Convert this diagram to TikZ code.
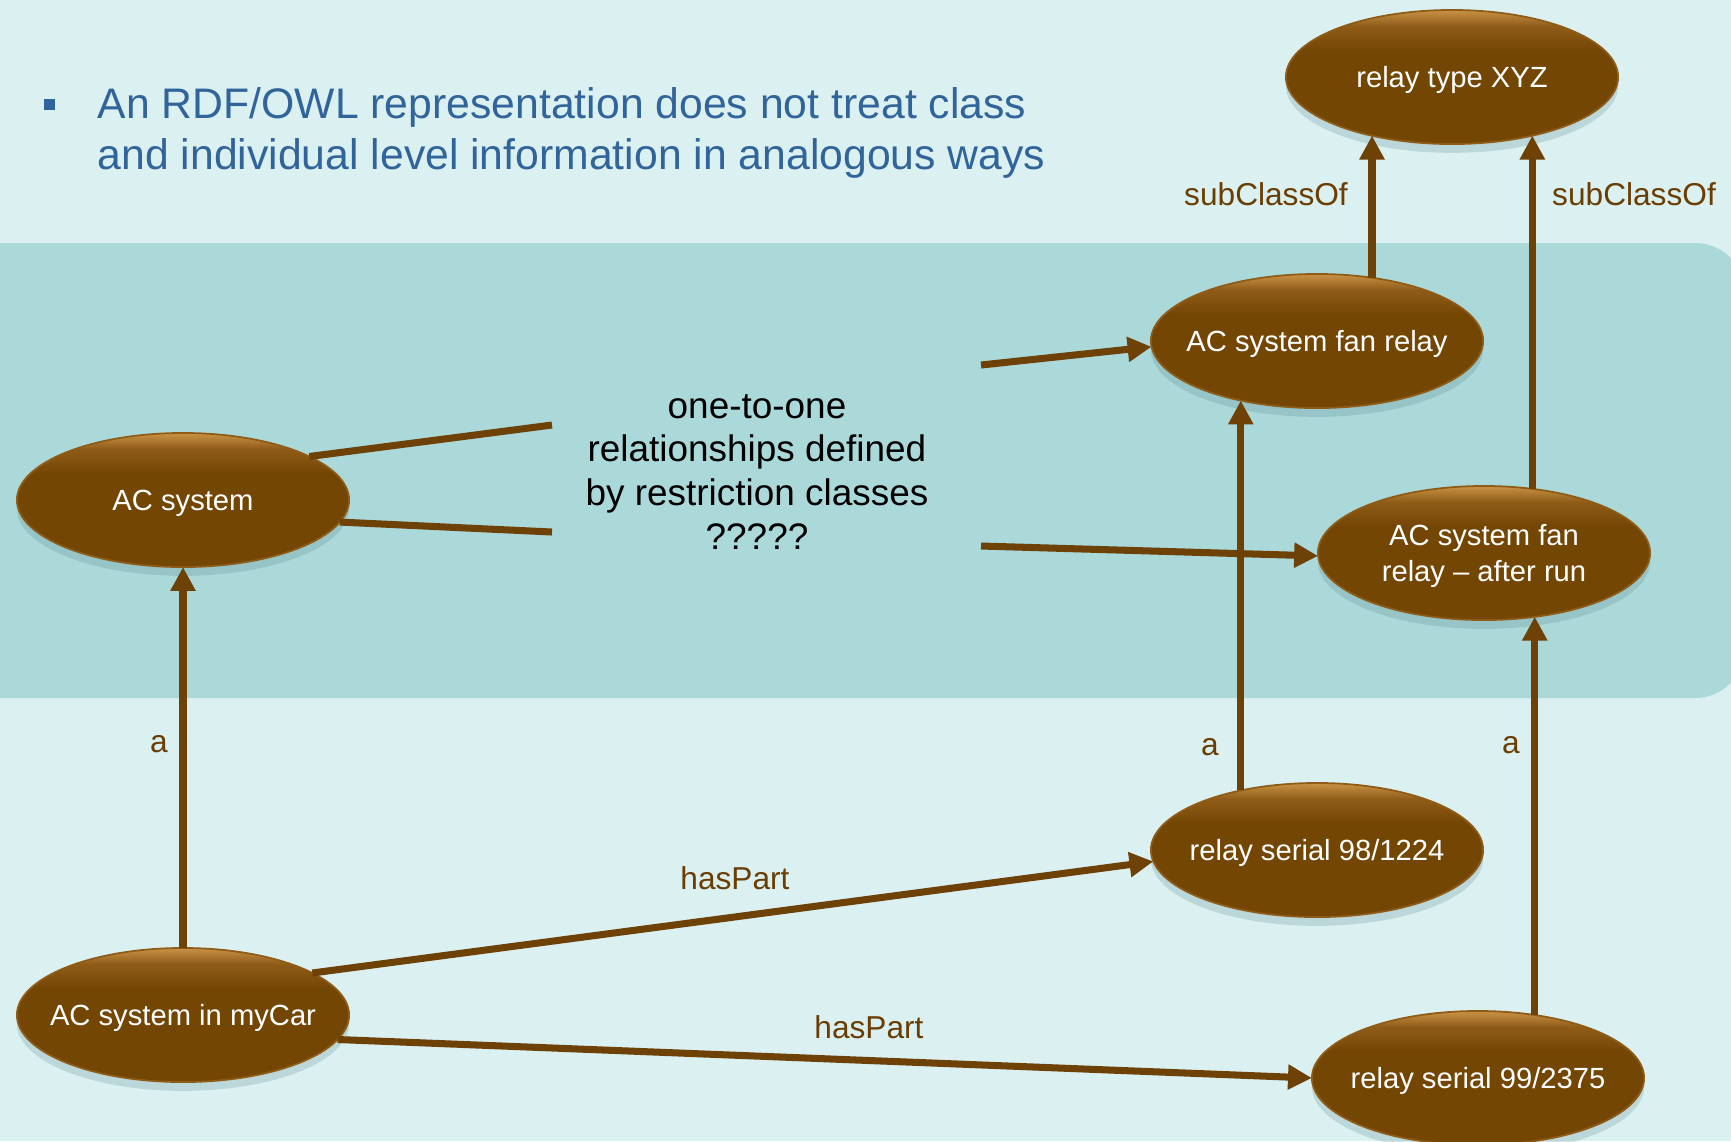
\documentclass[tikz,border=0pt]{standalone}
\usepackage{fontspec}
\setmainfont{Liberation Sans}
\usetikzlibrary{arrows.meta,shapes.geometric,shadows}

\definecolor{bgpale}{HTML}{DBF0F1}
\definecolor{bgband}{HTML}{ABD8D9}
\definecolor{brdark}{HTML}{744604}
\definecolor{brmid}{HTML}{8F5C18}
\definecolor{brlight}{HTML}{C99245}
\definecolor{edgebr}{HTML}{6E4206}
\definecolor{labbr}{HTML}{6A3D03}
\definecolor{slideblue}{HTML}{30649A}
\definecolor{shadowtone}{HTML}{5E8D93}

% dark brown body with a warm highlight along the upper rim
\pgfdeclareverticalshading{nodeshade}{100bp}{color(0bp)=(brdark); color(25bp)=(brdark); color(60bp)=(brdark); color(69bp)=(brmid); color(75bp)=(brlight); color(100bp)=(brlight)}

\tikzset{
  concept/.style={ellipse, minimum width=3.32cm, minimum height=1.34cm,
    inner xsep=-7pt, inner ysep=0pt, outer sep=0pt, shading=nodeshade, draw=brmid, line width=0.5pt,
    text=white, align=center, text depth=0pt, font=\fontsize{8.3}{10}\selectfont,
    drop shadow={shadow xshift=0pt, shadow yshift=-2.5pt, opacity=0.25, fill=shadowtone}},
  arr/.style={draw=edgebr, line width=2pt, -{Triangle[width=6.8pt,length=6.8pt]}},
  plain/.style={draw=edgebr, line width=2pt},
  lab/.style={text=labbr, font=\fontsize{9}{11}\selectfont, inner sep=0pt},
}

\begin{document}
\begin{tikzpicture}[x=0.01cm, y=-0.01cm]
  % slide background and the shaded band
  \fill[bgpale] (0,0) rectangle (1731,1141);
  \useasboundingbox (0,0) rectangle (1731,1141);
  \fill[bgband, rounded corners=0.5cm] (-60,243) rectangle (1745,698);

  % bullet point
  \fill[slideblue] (44,99) rectangle (55,110);
  \node[anchor=west, align=left, text=slideblue, inner sep=0pt,
        font=\fontsize{12.15}{14.6}\selectfont] (bullet) at (97,133)
    {An RDF/OWL representation does not treat class\\and individual level information in analogous ways};

  % concepts
  \node[concept] (xyz)    at (1452,77)   {relay type XYZ};
  \node[concept] (fan)    at (1317,341)  {AC system fan relay};
  \node[concept] (acs)    at (183,500)   {AC system};
  \node[concept] (after)  at (1484,553)  {AC system fan\\relay -- after run};
  \node[concept] (s1)     at (1317,850)  {relay serial 98/1224};
  \node[concept] (mycar)  at (183,1015)  {AC system in myCar};
  \node[concept] (s2)     at (1478,1078) {relay serial 99/2375};

  % question in the middle of the band
  \node[align=center, inner sep=0pt, font=\fontsize{10.5}{12.5}\selectfont] (quest) at (757,472)
    {one-to-one\\relationships defined\\by restriction classes\\?????};

  % loose ends of the restriction lines
  \coordinate (c1) at (552,425);
  \coordinate (c2) at (552,532);
  \coordinate (c3) at (981,365);
  \coordinate (c4) at (981,546);

  \draw[plain] (acs.19) -- (c1);
  \draw[plain] (acs.-8) -- (c2);
  \draw[arr] (c3) -- (fan.182);
  \draw[arr] (c4) -- (after.181);

  % instance / class links
  \draw[arr] (mycar.north) -- (acs.south);
  \draw[arr] (s1.142) -- (s1.142 |- fan.218);
  \draw[arr] (s2.48) -- (s2.48 |- after.-51);
  \draw[arr] (fan.49) -- (fan.49 |- xyz.216);
  \draw[arr] (after.53) -- (after.53 |- xyz.-36);

  % part links
  \draw[arr] (mycar.18) -- (s1.184);
  \draw[arr] (mycar.-9) -- (s2.180);

  % link labels
  \node[lab] (la1) at (159,744)  {a};
  \node[lab] (la2) at (1210,747) {a};
  \node[lab] (la3) at (1511,745) {a};
  \node[lab] (ls1) at (1266,194) {subClassOf};
  \node[lab] (ls2) at (1634,194) {subClassOf};
  \node[lab] (lh1) at (735,878)  {hasPart};
  \node[lab] (lh2) at (869,1027) {hasPart};
\end{tikzpicture}
\end{document}
